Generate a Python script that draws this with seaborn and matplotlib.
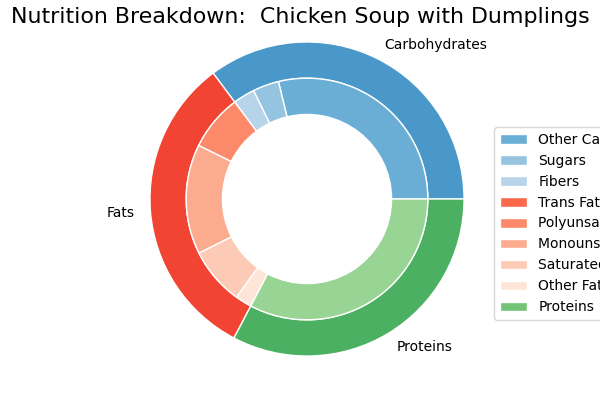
import matplotlib
matplotlib.use("Agg")
import matplotlib.pyplot as plt
import matplotlib.patches as mpatches
import seaborn as sns

# outer ring: macronutrient share (% of energy)
macro_labels = ["Carbohydrates", "Fats", "Proteins"]
macro_values = [35.2, 32.1, 32.7]

# inner ring: breakdown of each macronutrient
detail_labels = ["Other Carbs", "Sugars", "Fibers",
                 "Trans Fats", "Polyunsaturated Fats", "Monounsaturated Fats",
                 "Saturated Fats", "Other Fats", "Proteins"]
detail_values = [28.8, 3.5, 2.9, 0.0, 7.5, 14.7, 7.7, 2.2, 32.7]

sns.set_style("white")
plt.rcParams["font.family"] = ["DejaVu Sans"]
plt.rcParams["text.color"] = "black"

blues = sns.color_palette("Blues", as_cmap=True)
reds = sns.color_palette("Reds", as_cmap=True)
greens = sns.color_palette("Greens", as_cmap=True)

outer_colors = [blues(0.6), reds(0.6), greens(0.6)]
inner_colors = [blues(0.5), blues(0.4), blues(0.3),
                reds(0.5), reds(0.4), reds(0.3), reds(0.2), reds(0.1),
                greens(0.4)]
legend_colors = inner_colors[:-1] + [greens(0.5)]

fig = plt.figure(figsize=(6, 4), dpi=100)
ax = fig.add_axes([0, 0, 1, 1])

ax.pie(macro_values, labels=macro_labels, colors=outer_colors, radius=1.3,
       startangle=0, labeldistance=1.1,
       textprops=dict(color="black"),
       wedgeprops=dict(width=0.3, edgecolor="white", linewidth=1))
ax.pie(detail_values, colors=inner_colors, radius=1.0, startangle=0,
       wedgeprops=dict(width=0.3, edgecolor="white", linewidth=1))

# pie centre at (307, 199) px, 1 data unit ~ 120.8 px
scale = 120.8
ax.set_xlim(-307 / scale, 293 / scale)
ax.set_ylim(-201 / scale, 199 / scale)
ax.set_axis_off()

fig.text(0.5, 1 - 22.7 / 400, "Nutrition Breakdown:  Chicken Soup with Dumplings",
         ha="center", va="baseline", fontsize=15.9, color="black")

handles = [mpatches.Patch(facecolor=c) for c in legend_colors]
leg = fig.legend(handles, detail_labels, loc="center left",
                 bbox_to_anchor=(494 / 600, 1 - 223.5 / 400), borderaxespad=0,
                 fontsize=10)
for t in leg.get_texts():
    t.set_color("black")

fig.savefig("out.png", dpi=100)
